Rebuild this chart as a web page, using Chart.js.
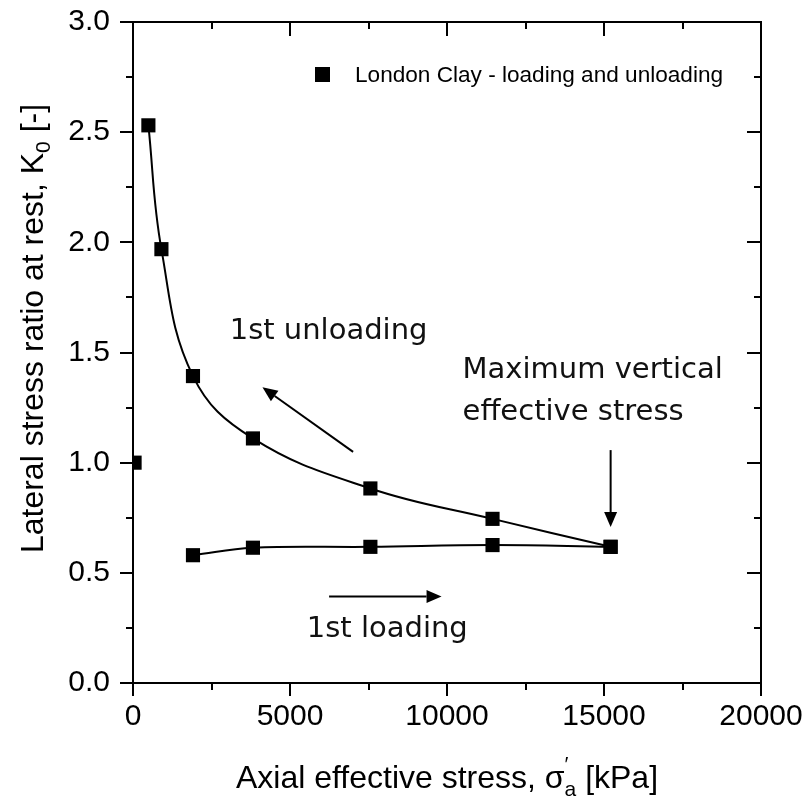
<!DOCTYPE html>
<html>
<head>
<meta charset="utf-8">
<script src="https://cdn.jsdelivr.net/npm/chart.js@4.4.1/dist/chart.umd.min.js"></script>
<style>
  html, body { margin: 0; padding: 0; background: #fff; }
  canvas { display: block; }
</style>
</head>
<body>
<canvas id="k0-chart" width="810" height="799"></canvas>
<script>
// London Clay, K0 vs axial effective stress
const seriesLabel = 'London Clay - loading and unloading';

const loadStress = [1910, 3820, 7560, 11450, 15210];
const loadK0 = [0.580, 0.614, 0.618, 0.626, 0.618];

const unloadStress = [490, 905, 1910, 3820, 7560, 11450, 15210];
const unloadK0 = [2.531, 1.969, 1.393, 1.110, 0.883, 0.745, 0.618];

const startStress = [50];
const startK0 = [1.0];

const xTicks = [0, 5000, 10000, 15000, 20000];
const yTicks = [0.0, 0.5, 1.0, 1.5, 2.0, 2.5, 3.0];

// text notes and arrows, in data units
const notes = [
    { text: '1st unloading', x: 3080, y: 1.561 },
    { text: 'Maximum vertical', x: 10495, y: 1.384 },
    { text: 'effective stress', x: 10495, y: 1.193 },
    { text: '1st loading', x: 5535, y: 0.208 }
];
const arrows = [
    { from: [7010, 1.049], to: [4123, 1.342] },
    { from: [15211, 1.057], to: [15211, 0.7075] },
    { from: [6245, 0.393], to: [9826, 0.393] }
];

const toPoints = (xs, ys) => xs.map((x, i) => ({ x: x, y: ys[i] }));

const tickFont = { family: 'Liberation Sans', size: 30 };

function drawArrow(ctx, x1, y1, x2, y2) {
    const ang = Math.atan2(y2 - y1, x2 - x1);
    const len = 15, half = 6.5;
    const bx = x2 - len * Math.cos(ang), by = y2 - len * Math.sin(ang);
    ctx.beginPath();
    ctx.moveTo(x1, y1);
    ctx.lineTo(bx, by);
    ctx.stroke();
    ctx.beginPath();
    ctx.moveTo(x2, y2);
    ctx.lineTo(bx + half * Math.sin(ang), by - half * Math.cos(ang));
    ctx.lineTo(bx - half * Math.sin(ang), by + half * Math.cos(ang));
    ctx.closePath();
    ctx.fill();
}

const framePlugin = {
    id: 'frame',
    afterDraw(chart) {
        const ctx = chart.ctx;
        const { left, right, top, bottom } = chart.chartArea;
        const xs = chart.scales.x, ys = chart.scales.y;
        ctx.save();
        ctx.strokeStyle = '#000';
        ctx.fillStyle = '#000';
        ctx.lineWidth = 2;
        ctx.strokeRect(left, top, right - left, bottom - top);

        // ticks: out on left/bottom, in on top/right
        for (let v = 0; v <= 20000; v += 2500) {
            const px = Math.round(xs.getPixelForValue(v));
            const major = v % 5000 === 0;
            ctx.beginPath();
            ctx.moveTo(px, bottom);
            ctx.lineTo(px, bottom + (major ? 13 : 7));
            ctx.moveTo(px, top);
            ctx.lineTo(px, top + (major ? 14 : 7));
            ctx.stroke();
        }
        for (let v = 0; v <= 3.0001; v += 0.25) {
            const py = Math.round(ys.getPixelForValue(v));
            const major = Math.abs(v * 2 - Math.round(v * 2)) < 1e-6;
            ctx.beginPath();
            ctx.moveTo(left, py);
            ctx.lineTo(left - (major ? 13 : 7), py);
            ctx.moveTo(right, py);
            ctx.lineTo(right - (major ? 14 : 7), py);
            ctx.stroke();
        }

        // legend
        ctx.fillRect(left + 182, top + 45, 15, 15);
        ctx.font = '22.6px "Liberation Sans"';
        ctx.textBaseline = 'alphabetic';
        ctx.fillText(seriesLabel, left + 222, top + 60);

        // notes and arrows
        ctx.font = '29px "DejaVu Sans"';
        ctx.fillStyle = '#111';
        notes.forEach(n => {
            ctx.fillText(n.text, xs.getPixelForValue(n.x), ys.getPixelForValue(n.y));
        });
        ctx.fillStyle = '#000';
        ctx.strokeStyle = '#000';
        arrows.forEach(a => {
            drawArrow(ctx,
                xs.getPixelForValue(a.from[0]), ys.getPixelForValue(a.from[1]),
                xs.getPixelForValue(a.to[0]), ys.getPixelForValue(a.to[1]));
        });

        // axis titles with sub/superscripts
        const big = '32px "Liberation Sans"', small = '21px "Liberation Sans"';
        // x title
        ctx.fillStyle = '#000';
        ctx.font = big;
        const p1 = 'Axial effective stress, \u03c3', p2 = ' [kPa]';
        const w1 = ctx.measureText(p1).width, w3 = ctx.measureText(p2).width;
        ctx.font = small;
        const w2 = ctx.measureText('a').width;
        const total = w1 + w2 + w3;
        let cx = (left + right) / 2 - total / 2;
        const base = bottom + 105;
        ctx.font = big;
        ctx.fillText(p1, cx, base);
        ctx.font = small;
        ctx.fillText('\u2032', cx + w1, base - 17);
        ctx.fillText('a', cx + w1, base + 8);
        ctx.font = big;
        ctx.fillText(p2, cx + w1 + w2, base);

        // y title
        ctx.save();
        ctx.translate(43, (top + bottom) / 2 - 24);
        ctx.rotate(-Math.PI / 2);
        const q1 = 'Lateral stress ratio at rest, K', q3 = ' [-]';
        ctx.font = big;
        const v1 = ctx.measureText(q1).width, v3 = ctx.measureText(q3).width;
        ctx.font = small;
        const v2 = ctx.measureText('0').width;
        let cy = -(v1 + v2 + v3) / 2;
        ctx.font = big;
        ctx.fillText(q1, cy, 0);
        ctx.font = small;
        ctx.fillText('0', cy + v1, 7);
        ctx.font = big;
        ctx.fillText(q3, cy + v1 + v2, 0);
        ctx.restore();

        ctx.restore();
    }
};

const lineStyle = {
    borderColor: '#000',
    backgroundColor: '#000',
    borderWidth: 2,
    tension: 0.4,
    pointStyle: 'rect',
    pointRadius: 10,
    pointBorderWidth: 0
};

const ctx = document.getElementById('k0-chart').getContext('2d');
const k0Chart = new Chart(ctx, {
    type: 'line',
    data: {
        datasets: [
            Object.assign({ label: seriesLabel, data: toPoints(unloadStress, unloadK0) }, lineStyle),
            Object.assign({ label: seriesLabel, data: toPoints(loadStress, loadK0) }, lineStyle),
            Object.assign({ label: seriesLabel, data: toPoints(startStress, startK0) }, lineStyle, { showLine: false })
        ]
    },
    options: {
        responsive: false,
        animation: false,
        devicePixelRatio: 1,
        layout: { padding: { top: 22, right: 49, left: 0, bottom: 0 } },
        plugins: {
            legend: { display: false },
            tooltip: { enabled: false }
        },
        scales: {
            x: {
                type: 'linear',
                min: 0,
                max: 20000,
                afterFit: s => {
                    s.height = 116;
                    s.paddingLeft = 0;
                    s.paddingRight = 0;
                },
                afterBuildTicks: s => { s.ticks = xTicks.map(v => ({ value: v })); },
                ticks: {
                    font: tickFont,
                    color: '#000',
                    padding: 16,
                    maxRotation: 0,
                    callback: v => String(v)
                },
                grid: { display: false, drawTicks: false },
                border: { display: false }
            },
            y: {
                type: 'linear',
                min: 0,
                max: 3,
                afterFit: s => {
                    s.width = 133;
                    s.paddingTop = 0;
                    s.paddingBottom = 0;
                },
                afterBuildTicks: s => { s.ticks = yTicks.map(v => ({ value: v })); },
                ticks: {
                    font: tickFont,
                    color: '#000',
                    padding: 23,
                    callback: v => v.toFixed(1)
                },
                grid: { display: false, drawTicks: false },
                border: { display: false }
            }
        }
    },
    plugins: [framePlugin]
});
</script>
</body>
</html>
